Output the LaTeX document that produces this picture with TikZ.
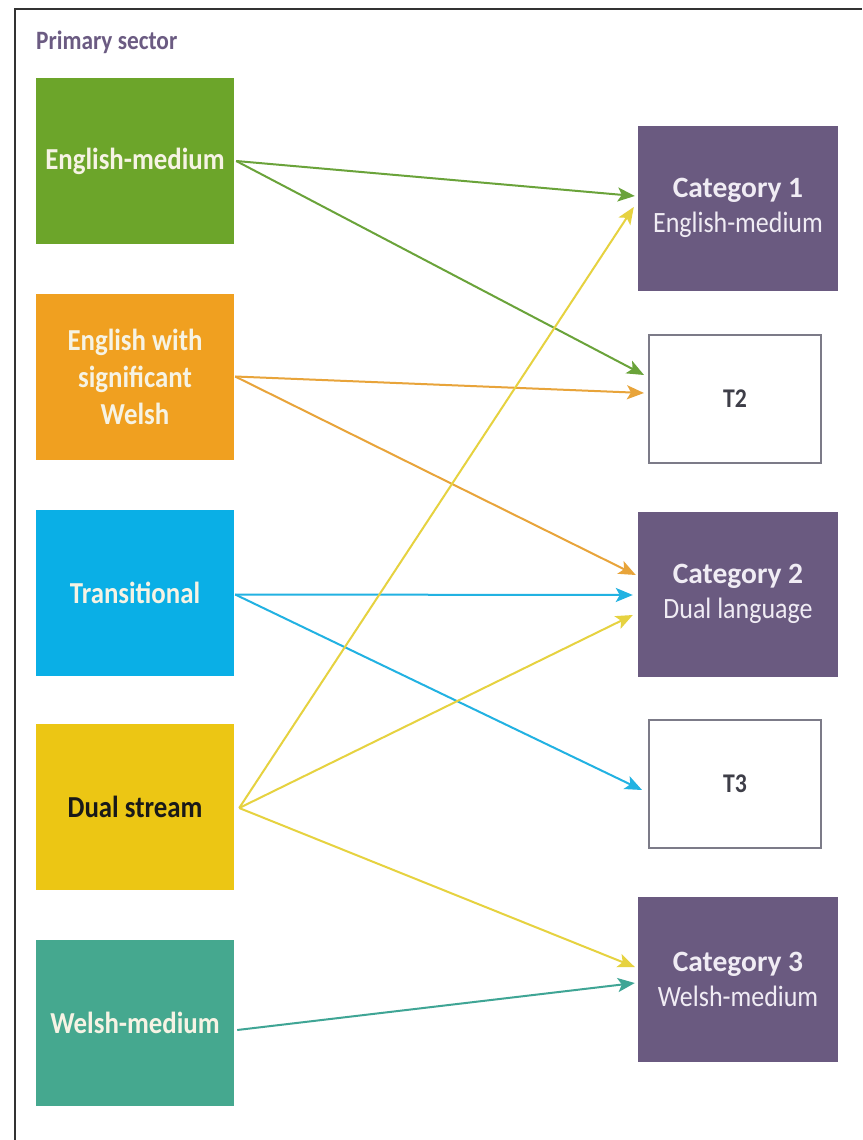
\documentclass[tikz,border=0pt]{standalone}
\usepackage{fontspec}
\setmainfont{Carlito}
\newfontfamily\narrowfont[FakeStretch=0.88]{Carlito}
\usetikzlibrary{arrows.meta,calc}
\definecolor{cgreen}{HTML}{6CA52A}
\definecolor{corange}{HTML}{F0A020}
\definecolor{cblue}{HTML}{0AAFE6}
\definecolor{cyellow}{HTML}{ECC614}
\definecolor{cteal}{HTML}{45A88F}
\definecolor{cpurple}{HTML}{6A5A80}
\definecolor{ltext}{HTML}{F6F3E4}
\definecolor{rtext}{HTML}{F0ECF4}
\definecolor{agreen}{HTML}{6AA33A}
\definecolor{aorange}{HTML}{E8A43A}
\definecolor{ablue}{HTML}{22B2E2}
\definecolor{ayellow}{HTML}{E6D240}
\definecolor{ateal}{HTML}{3FA595}
\definecolor{tbord}{HTML}{7C7B88}
\definecolor{ttext}{HTML}{3E3E48}
\definecolor{title}{HTML}{6B5B82}
\tikzset{
  srcbox/.style={minimum width=198pt,minimum height=166pt,inner sep=0pt,align=center,
    text=ltext,font=\narrowfont\fontsize{30.5}{37}\selectfont\bfseries},
  catbox/.style={fill=cpurple,minimum width=200pt,minimum height=165pt,inner sep=0pt,align=center,
    text=rtext,font=\narrowfont\fontsize{29.5}{35}\selectfont},
  tbox/.style={draw=tbord,line width=2pt,fill=white,minimum width=172pt,minimum height=128pt,
    inner sep=0pt,text=ttext,font=\narrowfont\fontsize{27}{30}\selectfont\bfseries},
  conn/.style={line width=2pt,-{Stealth[length=17pt,width=14pt,inset=4pt]}},
}
\begin{document}
\begin{tikzpicture}[x=1pt,y=1pt]
\useasboundingbox (0,0) rectangle (862,-1140);
\fill[white] (0,0) rectangle (862,-1140);
\draw[line width=2pt,color=black!80] (15,-1140) -- (15,-9) -- (862,-9);
\node[anchor=base west,inner sep=0pt,text=title,font=\narrowfont\fontsize{26.5}{28}\selectfont\bfseries] (ttl) at (36,-49) {Primary sector};
% left column
\node[srcbox,fill=cgreen] (em) at (135,-161) {English-medium};
\node[srcbox,fill=corange] (ew) at (135,-376.5) {English with\\significant\\Welsh};
\node[srcbox,fill=cblue] (tr) at (135,-592.5) {Transitional};
\node[srcbox,fill=cyellow,text=black!90] (ds) at (135,-807) {Dual stream};
\node[srcbox,fill=cteal] (wm) at (135,-1022.5) {Welsh-medium};
% right column
\node[catbox] (c1) at (738,-208) {{\rmfamily\bfseries Category 1}\\English-medium};
\node[tbox] (t2) at (735,-398.5) {T2};
\node[catbox] (c2) at (738,-594) {{\rmfamily\bfseries Category 2}\\Dual language};
\node[tbox] (t3) at (735,-783.5) {T3};
\node[catbox] (c3) at (738,-979) {{\rmfamily\bfseries Category 3}\\Welsh-medium};
% connectors
\draw[conn,agreen] ([xshift=2pt]em.east) -- ($(c1.west)+(-3,12)$);
\draw[conn,agreen] ([xshift=2pt]em.east) -- ($(t2.west)+(-4,23.5)$);
\draw[conn,aorange] ([xshift=1pt]ew.east) -- ($(t2.west)+(-4,5.5)$);
\draw[conn,aorange] ([xshift=1pt]ew.east) -- ($(c2.west)+(-2,19)$);
\draw[conn,ablue] ([xshift=1pt,yshift=-2pt]tr.east) -- ($(c2.west)+(-5,-1)$);
\draw[conn,ablue] ([xshift=1pt,yshift=-2pt]tr.east) -- ($(t3.west)+(-6,-6.5)$);
\draw[conn,ayellow] ([xshift=5pt,yshift=-1pt]ds.east) -- ($(c1.west)+(-4,1)$);
\draw[conn,ayellow] ([xshift=5pt,yshift=-1pt]ds.east) -- ($(c2.west)+(-5,-21)$);
\draw[conn,ayellow] ([xshift=5pt,yshift=-1pt]ds.east) -- ($(c3.west)+(-3,12)$);
\draw[conn,ateal] ([xshift=3pt,yshift=-7.5pt]wm.east) -- ($(c3.west)+(-3,-4)$);
\end{tikzpicture}
\end{document}
